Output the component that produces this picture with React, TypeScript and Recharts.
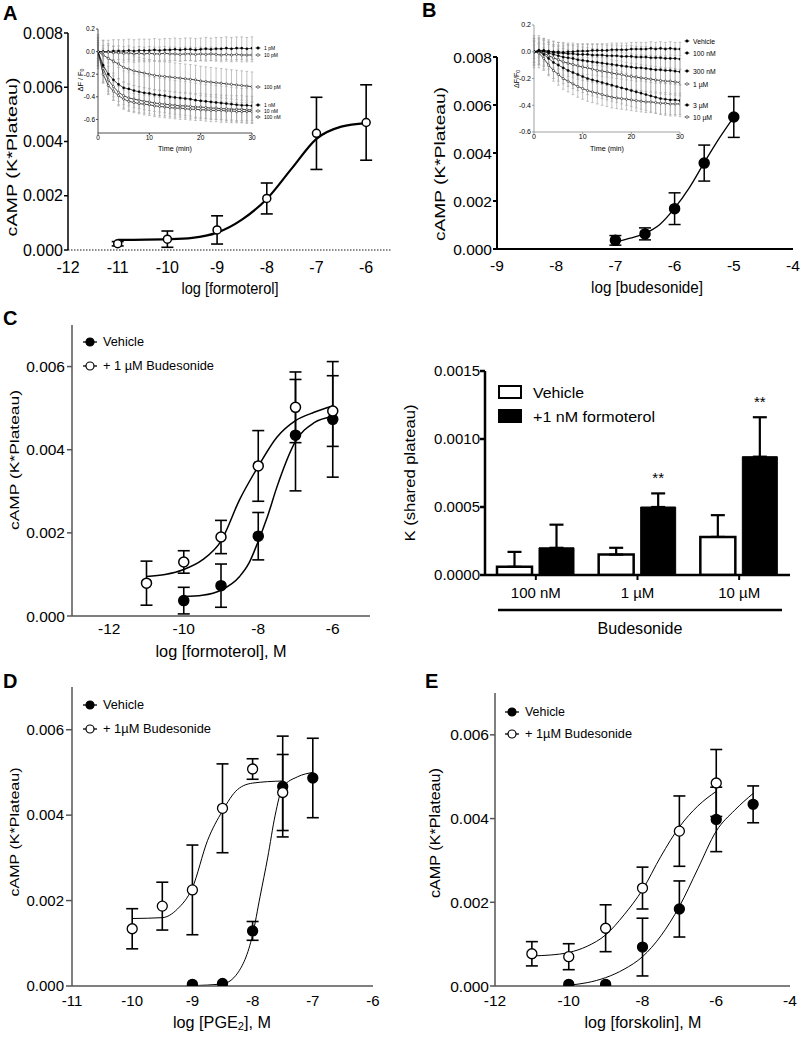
import React from "react";
import {
  ComposedChart, BarChart, Line, Scatter, Bar, ErrorBar, XAxis, YAxis, Label, LabelList,
} from "recharts";

const FONT = "'Liberation Sans', Arial, sans-serif";

// ---- A: formoterol, main curve
const aDose = [-11, -10, -9, -8, -7, -6];
const aCamp = [0.00023, 0.0004, 0.00074, 0.0019, 0.0043, 0.0047];
const aSem = [0.00008, 0.0003, 0.00052, 0.00057, 0.00133, 0.00139];
const aFitX = [-11, -10, -9.5, -9, -8.5, -8, -7.5, -7, -6.5, -6];
const aFitY = [0.00037, 0.0004, 0.00045, 0.00064, 0.00112, 0.00188, 0.003, 0.0041, 0.00455, 0.00468];

// ---- B: budesonide, main curve
const bDose = [-7, -6.5, -6, -5.5, -5];
const bCamp = [0.00036, 0.00063, 0.00168, 0.00358, 0.0055];
const bSem = [0.0002, 0.00025, 0.00066, 0.00075, 0.00085];
const bFitX = [-7, -6.75, -6.5, -6.25, -6, -5.75, -5.5, -5.25, -5];
const bFitY = [0.00028, 0.00045, 0.00065, 0.00102, 0.0017, 0.00256, 0.0036, 0.0046, 0.0055];

// ---- insets (time courses, dF/F0)
const insetTime = [0, 1, 2, 3, 4, 5, 6, 7, 8, 9, 10, 11, 12, 13, 14, 15, 16, 17, 18, 19, 20, 21, 22, 23, 24, 25, 26, 27, 28, 29, 30];
const iaPm1 = [0, 0, 0, 0.005, 0.005, 0.005, 0.01, 0.005, 0.01, 0.01, 0.01, 0.015, 0.01, 0.015, 0.015, 0.02, 0.015, 0.02, 0.02, 0.015, 0.02, 0.025, 0.02, 0.025, 0.025, 0.03, 0.025, 0.03, 0.03, 0.025, 0.03];
const iaPm10 = [0, -0.005, -0.005, -0.01, -0.01, -0.015, -0.01, -0.02, -0.015, -0.02, -0.015, -0.02, -0.02, -0.015, -0.02, -0.02, -0.025, -0.02, -0.02, -0.025, -0.02, -0.025, -0.02, -0.025, -0.03, -0.025, -0.03, -0.025, -0.03, -0.03, -0.03];
const iaPm100 = [0, -0.03, -0.06, -0.085, -0.11, -0.14, -0.155, -0.17, -0.18, -0.19, -0.2, -0.21, -0.215, -0.22, -0.225, -0.23, -0.235, -0.24, -0.245, -0.25, -0.26, -0.265, -0.27, -0.275, -0.28, -0.285, -0.29, -0.295, -0.3, -0.305, -0.31];
const iaNm1 = [0, -0.12, -0.2, -0.25, -0.29, -0.32, -0.33, -0.345, -0.355, -0.365, -0.37, -0.38, -0.385, -0.39, -0.4, -0.405, -0.41, -0.415, -0.42, -0.43, -0.435, -0.44, -0.445, -0.45, -0.455, -0.46, -0.465, -0.47, -0.475, -0.475, -0.48];
const iaNm10 = [0, -0.15, -0.25, -0.31, -0.36, -0.39, -0.41, -0.42, -0.43, -0.44, -0.445, -0.455, -0.46, -0.465, -0.47, -0.475, -0.48, -0.48, -0.485, -0.49, -0.49, -0.495, -0.5, -0.5, -0.505, -0.505, -0.51, -0.51, -0.51, -0.515, -0.515];
const iaNm100 = [0, -0.2, -0.3, -0.35, -0.39, -0.42, -0.44, -0.45, -0.46, -0.465, -0.47, -0.48, -0.485, -0.49, -0.495, -0.5, -0.5, -0.505, -0.51, -0.51, -0.515, -0.515, -0.52, -0.52, -0.52, -0.525, -0.525, -0.53, -0.53, -0.53, -0.53];
const iaSem = [0.1, 0.06, 0.13, 0.15, 0.12, 0.08];
const iaLabels = ["1 pM", "10 pM", "100 pM", "1 nM", "10 nM", "100 nM"];

const ibVeh = [0, 0.01, 0.01, 0.005, 0, 0, -0.005, 0, 0, 0.005, 0.005, 0.005, 0.01, 0.01, 0.01, 0.01, 0.015, 0.015, 0.015, 0.015, 0.02, 0.02, 0.02, 0.02, 0.025, 0.02, 0.025, 0.02, 0.025, 0.02, 0.02];
const ibNm100 = [0, 0.01, 0.005, 0, -0.005, -0.01, -0.01, -0.015, -0.015, -0.02, -0.02, -0.02, -0.025, -0.025, -0.025, -0.03, -0.03, -0.03, -0.035, -0.035, -0.035, -0.04, -0.04, -0.04, -0.045, -0.045, -0.045, -0.05, -0.05, -0.05, -0.055];
const ibNm300 = [0, 0.005, 0, -0.01, -0.02, -0.03, -0.04, -0.045, -0.05, -0.06, -0.065, -0.07, -0.075, -0.08, -0.085, -0.09, -0.095, -0.1, -0.105, -0.11, -0.115, -0.12, -0.12, -0.125, -0.13, -0.135, -0.135, -0.14, -0.14, -0.145, -0.15];
const ibUm1 = [0, 0, -0.01, -0.03, -0.045, -0.06, -0.075, -0.085, -0.095, -0.105, -0.115, -0.12, -0.13, -0.14, -0.145, -0.15, -0.16, -0.165, -0.17, -0.18, -0.185, -0.19, -0.195, -0.2, -0.205, -0.21, -0.215, -0.22, -0.22, -0.225, -0.23];
const ibUm3 = [0, 0, -0.02, -0.05, -0.08, -0.1, -0.12, -0.14, -0.155, -0.17, -0.185, -0.2, -0.21, -0.22, -0.23, -0.24, -0.25, -0.26, -0.27, -0.28, -0.29, -0.3, -0.31, -0.32, -0.33, -0.34, -0.35, -0.355, -0.36, -0.36, -0.365];
const ibUm10 = [0, -0.01, -0.05, -0.1, -0.14, -0.17, -0.2, -0.22, -0.24, -0.26, -0.275, -0.29, -0.3, -0.31, -0.32, -0.33, -0.34, -0.345, -0.35, -0.355, -0.36, -0.365, -0.37, -0.375, -0.375, -0.38, -0.385, -0.385, -0.39, -0.39, -0.39];
const ibSem = [0.05, 0.08, 0.1, 0.1, 0.12, 0.08];
const ibLabels = ["Vehicle", "100 nM", "300 nM", "1 µM", "3 µM", "10 µM"];

// ---- C: formoterol +/- budesonide
const cVehDose = [-10, -9, -8, -7, -6];
const cVehCamp = [0.00037, 0.00073, 0.00192, 0.00435, 0.00473];
const cVehSem = [0.00032, 0.00052, 0.00057, 0.00134, 0.00139];
const cVehFitX = [-10, -9.5, -9, -8.5, -8.25, -8, -7.75, -7.5, -7, -6.5, -6];
const cVehFitY = [0.00047, 0.0005, 0.00062, 0.00095, 0.00127, 0.0018, 0.0024, 0.0031, 0.0042, 0.00465, 0.0048];
const cBudDose = [-11, -10, -9, -8, -7, -6];
const cBudCamp = [0.00079, 0.0013, 0.0019, 0.00361, 0.00502, 0.00493];
const cBudSem = [0.00053, 0.00027, 0.0004, 0.00085, 0.00085, 0.00085];
const cBudFitX = [-11, -10.5, -10, -9.5, -9, -8.5, -8, -7.5, -7, -6.5, -6];
const cBudFitY = [0.00095, 0.001, 0.00112, 0.00135, 0.0018, 0.0028, 0.0036, 0.0043, 0.0047, 0.0049, 0.00505];

// ---- C right: K (shared plateau)
const barCats = ["100 nM", "1 µM", "10 µM"];
const barVeh = [0.00006, 0.00015, 0.00028];
const barVehSem = [0.00011, 0.00005, 0.00016];
const barFor = [0.0002, 0.0005, 0.00087];
const barForSem = [0.00017, 0.0001, 0.00029];
const barSig = ["", "**", "**"];

// ---- D: PGE2
const dVehDose = [-9, -8.5, -8, -7.5, -7];
const dVehCamp = [0.00004, 0.00006, 0.00129, 0.00467, 0.00487];
const dVehSem = [0, 0, 0.00022, 0.00118, 0.00093];
const dVehFitX = [-9, -8.5, -8.25, -8, -7.875, -7.75, -7.625, -7.5, -7.25, -7];
const dVehFitY = [0.00001, 0.00005, 0.0003, 0.0012, 0.0021, 0.003, 0.004, 0.00465, 0.0049, 0.005];
const dBudDose = [-10, -9.5, -9, -8.5, -8, -7.5];
const dBudCamp = [0.00134, 0.00187, 0.00225, 0.00416, 0.00508, 0.00453];
const dBudSem = [0.00047, 0.00056, 0.00105, 0.00104, 0.00024, 0.00089];
const dBudFitX = [-10, -9.5, -9.25, -9, -8.75, -8.5, -8.25, -8, -7.5];
const dBudFitY = [0.00158, 0.0016, 0.0018, 0.0023, 0.0034, 0.0041, 0.0046, 0.00475, 0.0048];

// ---- E: forskolin
const eVehDose = [-10, -9, -8, -7, -6, -5];
const eVehCamp = [0.00004, 0.00004, 0.00093, 0.00184, 0.00398, 0.00434];
const eVehSem = [0, 0, 0.00069, 0.00067, 0.00077, 0.00044];
const eVehFitX = [-10, -9.5, -9, -8.5, -8, -7.5, -7, -6.5, -6, -5.5, -5];
const eVehFitY = [0.00002, 0.00008, 0.0002, 0.0004, 0.0007, 0.0012, 0.0019, 0.0028, 0.0037, 0.0042, 0.0046];
const eBudDose = [-11, -10, -9, -8, -7, -6];
const eBudCamp = [0.00077, 0.0007, 0.00138, 0.00234, 0.0037, 0.00485];
const eBudSem = [0.00029, 0.00031, 0.00056, 0.0005, 0.00084, 0.0008];
const eBudFitX = [-11, -10.5, -10, -9.5, -9, -8.5, -8, -7.5, -7, -6.5, -6];
const eBudFitY = [0.00072, 0.00074, 0.0008, 0.00095, 0.00122, 0.0017, 0.0023, 0.0031, 0.0038, 0.0043, 0.00465];

const camp6 = [0, 0.002, 0.004, 0.006];
const camp8 = [0, 0.002, 0.004, 0.006, 0.008];

type Pt = { x: number; y: number; e: number };
type Fit = { x: number; y: number };
const pts = (xs: number[], ys: number[], es: number[]): Pt[] => xs.map((x, i) => ({ x, y: ys[i], e: es[i] }));
const fitRows = (xs: number[], ys: number[]): Fit[] => xs.map((x, i) => ({ x, y: ys[i] }));

function Title({ x, y, size, len, rot, weight, children }: any) {
  return (
    <text
      x={x} y={y} transform={rot ? `rotate(${rot} ${x} ${y})` : undefined}
      textAnchor="middle" dominantBaseline="central" fontSize={size} fontFamily={FONT}
      fontWeight={weight} fill="#000" textLength={len} lengthAdjust={len ? "spacingAndGlyphs" : undefined}
    >
      {children}
    </text>
  );
}

const tickStyle = (s: number) => ({ fontSize: s, fill: "#000", fontFamily: FONT });

interface Grp { pts: Pt[]; fit: Fit[]; open: boolean }
interface DoseCfg {
  ox: number; oy: number; w: number; h: number;
  plot: { l: number; r: number; t: number; b: number };
  xDomain: [number, number]; xTicks: number[];
  yDomain: [number, number]; yTicks: number[];
  groups: Grp[];
  axisColor: string; axisW: number; xAxisColor?: string; xDash?: string;
  tickFont: number; xTick: [number, number]; yTick: [number, number];
  r: number; ms: number; cap: number; ew: number; fitW: number;
  xTitle: React.ReactNode; xTitlePos: [number, number, number]; xTitleFont: number;
  yTitlePos: [number, number, number]; yTitleFont: number;
}

function DosePanel({ c }: { c: DoseCfg }) {
  const yLine = { stroke: c.axisColor, strokeWidth: c.axisW };
  const xLine = { stroke: c.xAxisColor || c.axisColor, strokeWidth: c.axisW, strokeDasharray: c.xDash };
  return (
    <div style={{ position: "absolute", left: c.ox, top: c.oy }}>
      <ComposedChart
        width={c.w} height={c.h}
        margin={{ top: c.plot.t - c.oy, right: c.ox + c.w - c.plot.r, bottom: 0, left: 0 }}
      >
        <XAxis
          type="number" dataKey="x" domain={c.xDomain} ticks={c.xTicks} allowDataOverflow interval={0}
          height={c.oy + c.h - c.plot.b} axisLine={xLine} tickLine={false}
          tickSize={c.xTick[0]} tickMargin={c.xTick[1]} tick={tickStyle(c.tickFont)}
        >
          <Label content={() => (
            <Title x={c.xTitlePos[0] - c.ox} y={c.xTitlePos[1] - c.oy} len={c.xTitlePos[2]} size={c.xTitleFont}>{c.xTitle}</Title>
          )} />
        </XAxis>
        <YAxis
          type="number" domain={c.yDomain} ticks={c.yTicks} allowDataOverflow interval={0}
          width={c.plot.l - c.ox} axisLine={yLine} tickLine={yLine}
          tickSize={c.yTick[0]} tickMargin={c.yTick[1]} tick={tickStyle(c.tickFont)}
          tickFormatter={(v: number) => v.toFixed(3)}
        >
          <Label content={() => (
            <Title x={c.yTitlePos[0] - c.ox} y={c.yTitlePos[1] - c.oy} len={c.yTitlePos[2]} size={c.yTitleFont} rot={-90}>cAMP (K*Plateau)</Title>
          )} />
        </YAxis>
        {c.groups.map((g, i) => (
          <Line key={"fit" + i} data={g.fit} dataKey="y" type="monotone" dot={false} activeDot={false}
            stroke="#000" strokeWidth={c.fitW} isAnimationActive={false} />
        ))}
        {c.groups.map((g, i) => (
          <Scatter key={"pts" + i} data={g.pts} dataKey="y" isAnimationActive={false}
            shape={(p: any) => (
              <circle cx={p.cx} cy={p.cy} r={c.r} fill={g.open ? "#fff" : "#000"} stroke="#000" strokeWidth={c.ms} />
            )}
          >
            <ErrorBar dataKey="e" direction="y" width={c.cap} stroke="#000" strokeWidth={c.ew} />
          </Scatter>
        ))}
      </ComposedChart>
    </div>
  );
}

interface InsetSeries { v: number[]; e: number; open: boolean }
interface InsetCfg {
  ox: number; oy: number; w: number; h: number;
  plot: { l: number; r: number; t: number; b: number };
  yDomain: [number, number];
  series: InsetSeries[];
  axisColor: string; tickFont: number;
  xTitlePos: [number, number, number]; yTitlePos: [number, number, number];
  yTitleSlash: string;
}

function InsetPanel({ c }: { c: InsetCfg }) {
  const rows = c.series.map((s) => insetTime.map((t, i) => ({ t, v: s.v[i], e: s.e })));
  const line = { stroke: c.axisColor, strokeWidth: 0.8 };
  return (
    <div style={{ position: "absolute", left: c.ox, top: c.oy }}>
      <ComposedChart
        width={c.w} height={c.h}
        margin={{ top: c.plot.t - c.oy, right: c.ox + c.w - c.plot.r, bottom: 0, left: 0 }}
      >
        <XAxis
          type="number" dataKey="t" domain={[0, 30]} ticks={[0, 10, 20, 30]} allowDataOverflow interval={0}
          height={c.oy + c.h - c.plot.b} axisLine={line} tickLine={line} tickSize={2} tickMargin={0}
          tick={tickStyle(c.tickFont)}
        >
          <Label content={() => (
            <Title x={c.xTitlePos[0] - c.ox} y={c.xTitlePos[1] - c.oy} len={c.xTitlePos[2]} size={7}>Time (min)</Title>
          )} />
        </XAxis>
        <YAxis
          type="number" domain={c.yDomain} ticks={[-0.6, -0.4, -0.2, 0, 0.2]} allowDataOverflow interval={0}
          width={c.plot.l - c.ox} axisLine={line} tickLine={line} tickSize={2} tickMargin={1}
          tick={tickStyle(c.tickFont)} tickFormatter={(v: number) => v.toFixed(1)}
        >
          <Label content={() => (
            <Title x={c.yTitlePos[0] - c.ox} y={c.yTitlePos[1] - c.oy} len={c.yTitlePos[2]} size={6.5} rot={-90}>
              {"ΔF" + c.yTitleSlash + "F"}<tspan dy={2} fontSize={4.5}>0</tspan>
            </Title>
          )} />
        </YAxis>
        {rows.map((r, i) => (
          <Line key={"err" + i} data={r} dataKey="v" stroke="none" dot={false} activeDot={false} isAnimationActive={false}>
            <ErrorBar dataKey="e" direction="y" width={1.3} stroke="#a8a8a8" strokeWidth={0.7} />
          </Line>
        ))}
        {rows.map((r, i) => (
          <Line key={"ts" + i} data={r} dataKey="v" stroke="#000" strokeWidth={0.7} activeDot={false} isAnimationActive={false}
            dot={{ r: 1.1, fill: c.series[i].open ? "#fff" : "#000", stroke: "#000", strokeWidth: 0.5 }} />
        ))}
      </ComposedChart>
    </div>
  );
}

const insetA: InsetCfg = {
  ox: 60, oy: 15, w: 260, h: 150, plot: { l: 98, r: 252, t: 29, b: 133 }, yDomain: [-0.72, 0.2],
  series: [
    { v: iaPm1, e: iaSem[0], open: false }, { v: iaPm10, e: iaSem[1], open: true },
    { v: iaPm100, e: iaSem[2], open: true }, { v: iaNm1, e: iaSem[3], open: false },
    { v: iaNm10, e: iaSem[4], open: true }, { v: iaNm100, e: iaSem[5], open: true },
  ],
  axisColor: "#222", tickFont: 6.5, xTitlePos: [175, 148, 34], yTitlePos: [80, 80, 23], yTitleSlash: " / ",
};

const insetB: InsetCfg = {
  ox: 490, oy: 10, w: 300, h: 150, plot: { l: 534, r: 680, t: 25, b: 132 }, yDomain: [-0.6, 0.2],
  series: [
    { v: ibVeh, e: ibSem[0], open: false }, { v: ibNm100, e: ibSem[1], open: false },
    { v: ibNm300, e: ibSem[2], open: false }, { v: ibUm1, e: ibSem[3], open: true },
    { v: ibUm3, e: ibSem[4], open: false }, { v: ibUm10, e: ibSem[5], open: true },
  ],
  axisColor: "#888", tickFont: 7, xTitlePos: [607, 148, 34], yTitlePos: [516, 79, 18], yTitleSlash: "/",
};

const panelA: DoseCfg = {
  ox: 0, oy: 0, w: 400, h: 300, plot: { l: 68, r: 391, t: 33, b: 250 },
  xDomain: [-12, -5.5], xTicks: [-12, -11, -10, -9, -8, -7, -6], yDomain: [0, 0.008], yTicks: camp8,
  groups: [{ pts: pts(aDose, aCamp, aSem), fit: fitRows(aFitX, aFitY), open: true }],
  axisColor: "#000", axisW: 1.5, xAxisColor: "#666", xDash: "1.5 1.5",
  tickFont: 16, xTick: [6, 6], yTick: [4, 1], r: 4, ms: 1.5, cap: 6, ew: 1.6, fitW: 2.2,
  xTitle: "log [formoterol]", xTitlePos: [230, 288, 97], xTitleFont: 16, yTitlePos: [12, 157, 159], yTitleFont: 14,
};

const panelB: DoseCfg = {
  ox: 400, oy: 0, w: 400, h: 300, plot: { l: 497, r: 793, t: 57, b: 249 },
  xDomain: [-9, -4], xTicks: [-9, -8, -7, -6, -5, -4], yDomain: [0, 0.008], yTicks: camp8,
  groups: [{ pts: pts(bDose, bCamp, bSem), fit: fitRows(bFitX, bFitY), open: false }],
  axisColor: "#000", axisW: 2,
  tickFont: 15.5, xTick: [6, 5], yTick: [4, 1], r: 5, ms: 1.5, cap: 6, ew: 1.5, fitW: 1.3,
  xTitle: "log [budesonide]", xTitlePos: [647, 287, 112], xTitleFont: 16, yTitlePos: [440, 164, 154], yTitleFont: 14,
};

const panelC: DoseCfg = {
  ox: 0, oy: 300, w: 400, h: 370, plot: { l: 72, r: 370, t: 325, b: 616 },
  xDomain: [-13, -5], xTicks: [-12, -10, -8, -6], yDomain: [0, 0.007], yTicks: camp6,
  groups: [
    { pts: pts(cVehDose, cVehCamp, cVehSem), fit: fitRows(cVehFitX, cVehFitY), open: false },
    { pts: pts(cBudDose, cBudCamp, cBudSem), fit: fitRows(cBudFitX, cBudFitY), open: true },
  ],
  axisColor: "#555", axisW: 1.5,
  tickFont: 15.5, xTick: [6, 1], yTick: [5, 2], r: 5, ms: 1.5, cap: 6, ew: 1.6, fitW: 1.5,
  xTitle: "log [formoterol], M", xTitlePos: [221, 651, 131], xTitleFont: 16, yTitlePos: [14, 460, 140], yTitleFont: 13,
};

const panelD: DoseCfg = {
  ox: 0, oy: 680, w: 400, h: 359, plot: { l: 72, r: 373, t: 687, b: 986 },
  xDomain: [-11, -6], xTicks: [-11, -10, -9, -8, -7, -6], yDomain: [0, 0.007], yTicks: camp6,
  groups: [
    { pts: pts(dVehDose, dVehCamp, dVehSem), fit: fitRows(dVehFitX, dVehFitY), open: false },
    { pts: pts(dBudDose, dBudCamp, dBudSem), fit: fitRows(dBudFitX, dBudFitY), open: true },
  ],
  axisColor: "#555", axisW: 1.5,
  tickFont: 15, xTick: [6, 3], yTick: [6, 2], r: 5, ms: 1.3, cap: 6, ew: 1.6, fitW: 1,
  xTitle: (<>log [PGE<tspan dy={4} fontSize={11}>2</tspan><tspan dy={-4}>], M</tspan></>),
  xTitlePos: [222, 1022, 98], xTitleFont: 16, yTitlePos: [14, 832, 129], yTitleFont: 13,
};

const panelE: DoseCfg = {
  ox: 400, oy: 680, w: 400, h: 359, plot: { l: 495, r: 790, t: 693, b: 986 },
  xDomain: [-12, -4], xTicks: [-12, -10, -8, -6, -4], yDomain: [0, 0.007], yTicks: camp6,
  groups: [
    { pts: pts(eVehDose, eVehCamp, eVehSem), fit: fitRows(eVehFitX, eVehFitY), open: false },
    { pts: pts(eBudDose, eBudCamp, eBudSem), fit: fitRows(eBudFitX, eBudFitY), open: true },
  ],
  axisColor: "#555", axisW: 1.5,
  tickFont: 15.5, xTick: [6, 3], yTick: [5, 1], r: 5, ms: 1.3, cap: 6, ew: 1.6, fitW: 1,
  xTitle: "log [forskolin], M", xTitlePos: [643, 1022, 117], xTitleFont: 16, yTitlePos: [435, 833, 130], yTitleFont: 14,
};

function KPanel() {
  const rows = barCats.map((cat, i) => ({
    cat, veh: barVeh[i], vehE: [0, barVehSem[i]], frm: barFor[i], frmE: [0, barForSem[i]], sig: barSig[i],
  }));
  const line = { stroke: "#000", strokeWidth: 2.5 };
  const sigLabel = (p: any) => {
    const { x, y, width, height, value, index } = p;
    if (!value) return null;
    const top = y - barForSem[index] * (height / barFor[index]);
    return (
      <text x={x + width / 2} y={top - 10} textAnchor="middle" fontSize={15} fontFamily={FONT} fill="#000">{value}</text>
    );
  };
  return (
    <div style={{ position: "absolute", left: 400, top: 300 }}>
      <BarChart width={400} height={340} data={rows} margin={{ top: 71, right: 10, bottom: 0, left: 0 }} barSize={35} barGap={7}>
        <XAxis dataKey="cat" height={65} axisLine={line} tickLine={{ stroke: "#000", strokeWidth: 2 }}
          tickSize={5} tickMargin={7} tick={tickStyle(15)} interval={0}>
          <Label content={() => (
            <g>
              <line x1={98} x2={382} y1={310} y2={310} stroke="#000" strokeWidth={2.5} />
              <Title x={240} y={328} len={85} size={16}>Budesonide</Title>
            </g>
          )} />
        </XAxis>
        <YAxis domain={[0, 0.0015]} ticks={[0, 0.0005, 0.001, 0.0015]} allowDataOverflow interval={0} width={85}
          axisLine={line} tickLine={line} tickSize={5} tickMargin={0} tick={tickStyle(15)}
          tickFormatter={(v: number) => v.toFixed(4)}>
          <Label content={() => (
            <Title x={10} y={173} len={137} size={14} rot={-90}>K (shared plateau)</Title>
          )} />
        </YAxis>
        <Bar dataKey="veh" fill="#fff" stroke="#000" strokeWidth={2.5} isAnimationActive={false}>
          <ErrorBar dataKey="vehE" direction="y" width={7} stroke="#000" strokeWidth={2.2} />
        </Bar>
        <Bar dataKey="frm" fill="#000" stroke="#000" strokeWidth={1} isAnimationActive={false}>
          <ErrorBar dataKey="frmE" direction="y" width={7} stroke="#000" strokeWidth={2.2} />
          <LabelList dataKey="sig" content={sigLabel} />
        </Bar>
      </BarChart>
    </div>
  );
}

function LegendRow({ x, y, open, text, len }: { x: number; y: number; open: boolean; text: string; len: number }) {
  return (
    <g>
      <line x1={x - 7} x2={x + 7} y1={y} y2={y} stroke="#000" strokeWidth={1.3} />
      <circle cx={x} cy={y} r={4} fill={open ? "#fff" : "#000"} stroke="#000" strokeWidth={1.2} />
      <text x={x + 13} y={y} dominantBaseline="central" fontSize={12.5} fontFamily={FONT} textLength={len} lengthAdjust="spacingAndGlyphs">{text}</text>
    </g>
  );
}

function InsetKey({ x, ys, labels, opens, size }: { x: number; ys: number[]; labels: string[]; opens: boolean[]; size: number }) {
  return (
    <g>
      {labels.map((l, i) => (
        <g key={l}>
          <line x1={x - 2.5} x2={x + 2.5} y1={ys[i]} y2={ys[i]} stroke="#000" strokeWidth={0.6} />
          <circle cx={x} cy={ys[i]} r={1.3} fill={opens[i] ? "#fff" : "#000"} stroke="#000" strokeWidth={0.5} />
          <text x={x + 6} y={ys[i]} dominantBaseline="central" fontSize={size} fontFamily={FONT}>{l}</text>
        </g>
      ))}
    </g>
  );
}

function Overlay() {
  const letter = (ch: string, x: number, y: number) => (
    <text x={x} y={y} fontSize={20} fontWeight="bold" fontFamily={FONT} fill="#000">{ch}</text>
  );
  return (
    <svg width={800} height={1039} style={{ position: "absolute", left: 0, top: 0, pointerEvents: "none" }}>
      {letter("A", 3, 20)}
      {letter("B", 422, 17)}
      {letter("C", 3, 325)}
      {letter("D", 3, 688)}
      {letter("E", 425, 688)}
      <InsetKey x={258} ys={[48, 55, 87, 105, 111, 117]} labels={iaLabels} opens={insetA.series.map((s) => s.open)} size={5} />
      <InsetKey x={687} ys={[41, 53, 71, 84, 105, 117]} labels={ibLabels} opens={insetB.series.map((s) => s.open)} size={6.8} />
      <LegendRow x={90} y={342} open={false} text="Vehicle" len={41} />
      <LegendRow x={90} y={366} open={true} text="+ 1 µM Budesonide" len={111} />
      <LegendRow x={90} y={705} open={false} text="Vehicle" len={41} />
      <LegendRow x={90} y={729} open={true} text="+ 1µM Budesonide" len={108} />
      <LegendRow x={512} y={712} open={false} text="Vehicle" len={40} />
      <LegendRow x={512} y={734} open={true} text="+ 1µM Budesonide" len={107} />
      <rect x={499} y={386} width={22} height={12} fill="#fff" stroke="#000" strokeWidth={2} />
      <text x={533} y={392} dominantBaseline="central" fontSize={15.5} fontFamily={FONT} textLength={51} lengthAdjust="spacingAndGlyphs">Vehicle</text>
      <rect x={499} y={410} width={22} height={12} fill="#000" stroke="#000" strokeWidth={2} />
      <text x={533} y={416} dominantBaseline="central" fontSize={15.5} fontFamily={FONT} textLength={122} lengthAdjust="spacingAndGlyphs">+1 nM formoterol</text>
    </svg>
  );
}

export default function App() {
  return (
    <div style={{ position: "absolute", left: 0, top: 0, width: 800, height: 1039, background: "#fff", fontFamily: FONT }}>
      <DosePanel c={panelA} />
      <DosePanel c={panelB} />
      <DosePanel c={panelC} />
      <DosePanel c={panelD} />
      <DosePanel c={panelE} />
      <KPanel />
      <InsetPanel c={insetA} />
      <InsetPanel c={insetB} />
      <Overlay />
    </div>
  );
}
